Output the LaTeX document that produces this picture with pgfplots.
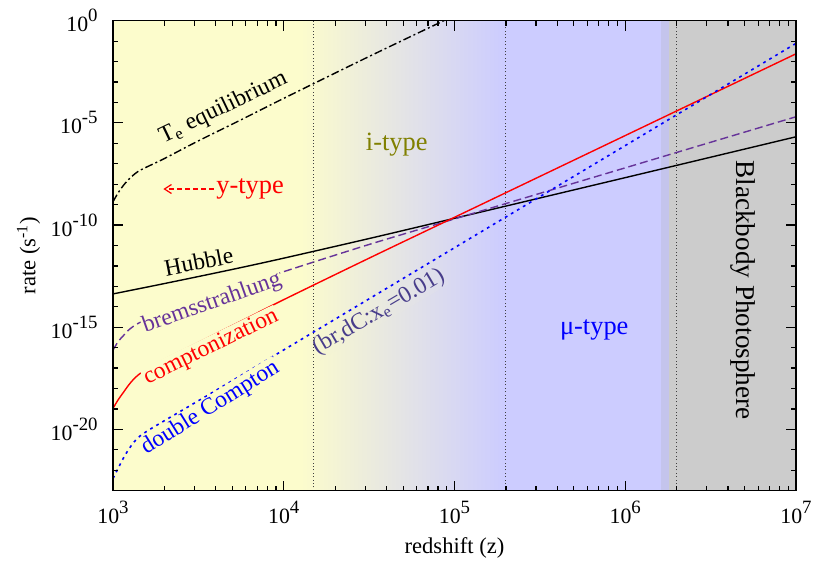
\documentclass[border=0pt]{standalone}
\usepackage{fontspec}
\setmainfont{Liberation Serif}
\usepackage{pgfplots}
\usepackage{pgfplotstable}
\pgfplotsset{compat=1.18}
\usetikzlibrary{arrows.meta}
\definecolor{bgyellow}{RGB}{252,252,204}
\definecolor{bgblue}{RGB}{204,204,255}
\definecolor{bggray}{RGB}{204,204,204}
\definecolor{bgmid}{RGB}{196,196,236}
\definecolor{bgA}{RGB}{249,249,207}
\definecolor{bgB}{RGB}{219,219,239}
\definecolor{brpurple}{RGB}{102,51,153}
\definecolor{olivetxt}{RGB}{128,128,0}
\definecolor{slate}{RGB}{72,61,139}
\newcommand{\tp}[1]{10\raisebox{5pt}{\fontsize{9.4pt}{10pt}\selectfont #1}}
\newcommand{\curvefont}{\fontsize{11.8pt}{13pt}\selectfont}
\newcommand{\annfont}{\fontsize{13.2pt}{15pt}\selectfont}

\pgfplotstableread{
x y
1000 1.380e-9
1072 3.80e-9
1148 8.51e-9
1230 1.66e-8
1318 2.82e-8
1413 4.37e-8
1585 7.08e-8
1995 1.778e-7
3162 1.318e-6
5623 1.413e-5
10000 1.585e-4
31623 1.778e-2
100000 1.778
}\teeq

\pgfplotstableread{
x y
1000 1.072e-19
1072 2.818e-19
1148 6.310e-19
1230 1.413e-18
1318 2.818e-18
1413 4.786e-18
1585 9.550e-18
1995 2.630e-17
3162 1.820e-16
5623 1.995e-15
10000 2.239e-14
31623 2.399e-12
100000 2.399e-10
316228 2.399e-8
1000000 2.399e-6
3162278 2.399e-4
10000000 2.399e-2
}\compt

\pgfplotstableread{
x y
1000 7.586e-17
1072 1.995e-16
1148 3.802e-16
1230 7.079e-16
1318 1.122e-15
1413 1.585e-15
1585 2.512e-15
1995 5.012e-15
3162 1.995e-14
5623 1.047e-13
10000 5.248e-13
31623 1.122e-11
100000 1.995e-10
316228 3.548e-9
1000000 6.310e-8
3162278 1.122e-6
10000000 1.995e-5
}\brems

\pgfplotstableread{
x y
1000 3.981e-23
1072 1.259e-22
1148 3.802e-22
1230 1.0e-21
1318 2.239e-21
1413 4.169e-21
1585 8.318e-21
1995 2.630e-20
3162 2.512e-19
5623 4.365e-18
10000 7.762e-17
31623 2.455e-14
100000 7.762e-12
316228 2.455e-9
1000000 7.762e-7
3162278 2.455e-4
10000000 7.762e-2
}\dcomp

\pgfplotstableread{
x y
1000 4.266e-14
1778 1.122e-13
3162 3.020e-13
5623 8.318e-13
10000 2.399e-12
31623 2.188e-11
100000 2.138e-10
1000000 2.089e-8
10000000 2.089e-6
}\hubble

\begin{document}
\begin{tikzpicture}
\begin{axis}[
  scale only axis, width=341.5pt, height=235pt,
  xmode=log, ymode=log,
  xmin=1e3, xmax=1e7, ymin=1e-23, ymax=1,
  axis on top,
  axis line style={line width=0.75pt},
  every tick/.style={black, line width=0.6pt},
  major tick length=5pt, minor tick length=2.6pt,
  xtick={1e3,1e4,1e5,1e6,1e7},
  xticklabels={\tp{3},\tp{4},\tp{5},\tp{6},\tp{7}},
  minor xtick={2e3,3e3,4e3,5e3,6e3,7e3,8e3,9e3,2e4,3e4,4e4,5e4,6e4,7e4,8e4,9e4,2e5,3e5,4e5,5e5,6e5,7e5,8e5,9e5,2e6,3e6,4e6,5e6,6e6,7e6,8e6,9e6},
  ytick={1,1e-5,1e-10,1e-15,1e-20},
  yticklabels={\tp{0},\tp{-5},\tp{-10},\tp{-15},\tp{-20}},
  minor ytick={1e-1,1e-2,1e-3,1e-4,1e-6,1e-7,1e-8,1e-9,1e-11,1e-12,1e-13,1e-14,1e-16,1e-17,1e-18,1e-19,1e-21,1e-22},
  tick label style={font=\fontsize{10.9pt}{12pt}\selectfont},
  xticklabel style={inner sep=0pt, anchor=north, yshift=-5.2pt},
  yticklabel style={inner sep=0pt, anchor=east, xshift=-7.5pt},
  xlabel={redshift (z)},
  ylabel={rate (s\textsuperscript{-1})},
  label style={font=\fontsize{11.3pt}{13pt}\selectfont},
  xlabel style={at={(axis description cs:0.5,-0.1219)}, anchor=center},
  ylabel style={at={(axis description cs:-0.1235,0.5)}, anchor=center},
]
% background regions
\fill[bgyellow] (axis cs:1e3,1e-23) rectangle (axis cs:1.25e4,1);
\fill[left color=bgyellow, right color=bgblue] (axis cs:1.25e4,1e-23) rectangle (axis cs:1.95e5,1);
\fill[bgblue] (axis cs:1.95e5,1e-23) rectangle (axis cs:1.63e6,1);
\fill[bgmid] (axis cs:1.63e6,1e-23) rectangle (axis cs:1.8e6,1);
\fill[bggray] (axis cs:1.8e6,1e-23) rectangle (axis cs:1e7,1);

% curves
\addplot[black, line width=0.7pt, smooth, dash pattern=on 4pt off 1.5pt on 1pt off 1.5pt] table[x=x,y=y] {\teeq};
\addplot[black, line width=0.7pt, smooth] table[x=x,y=y] {\hubble};
\addplot[brpurple, line width=0.7pt, smooth, dash pattern=on 4pt off 2pt] table[x=x,y=y] {\brems};
\addplot[red, line width=0.7pt, smooth] table[x=x,y=y] {\compt};
\addplot[blue, line width=0.8pt, smooth, dash pattern=on 1.4pt off 2.1pt] table[x=x,y=y] {\dcomp};

% labels
\node[rotate=25.6, font=\curvefont] at (axis cs:4.43e3,5.4e-5) {T\textsubscript{e} equilibrium};
\node[rotate=11, font=\curvefont] at (axis cs:3.18e3,1.63e-12) {Hubble};
\node[rotate=19.5, font=\curvefont, text=brpurple, fill=bgyellow, inner sep=0.4pt] at (axis cs:3.80e3,1.5e-14) {bremsstrahlung};
\node[rotate=26, font=\curvefont, text=red, fill=bgyellow, inner sep=0.5pt] at (axis cs:3.76e3,1e-16) {comptonization};
\node[rotate=32, font=\curvefont, text=blue, fill=bgyellow, inner sep=0.4pt] at (axis cs:3.72e3,1.1e-19) {double Compton};
\node[rotate=30.5, font=\curvefont, text=slate, left color=bgA, right color=bgB, inner sep=0.4pt] at (axis cs:3.6e4,5.5e-15) {(br,dC:x\textsubscript{e}=0.01)};
\draw[red, line width=0.6pt, dash pattern=on 2.5pt off 1.5pt, -{Straight Barb[length=3.5pt,width=4.5pt]}] (axis cs:3882,5.8e-9) -- (axis cs:1972,5.8e-9);
\node[font=\annfont, text=red] at (axis cs:6.35e3,5.8e-9) {y-type};
\node[font=\annfont, text=olivetxt] at (axis cs:4.59e4,8.2e-7) {i-type};
\node[font=\annfont, text=blue] at (axis cs:6.58e5,7.2e-16) {μ-type};
\node[rotate=-90, font=\fontsize{13.6pt}{15pt}\selectfont] at (axis cs:4.87e6,6.6e-14) {Blackbody Photosphere};

% region boundaries
\draw[gray!50!black, line width=0.5pt, dash pattern=on 0.5pt off 1.2pt] (axis cs:1.5e4,1e-23) -- (axis cs:1.5e4,1);
\draw[gray!50!black, line width=0.5pt, dash pattern=on 0.5pt off 1.2pt] (axis cs:2e5,1e-23) -- (axis cs:2e5,1);
\draw[gray!50!black, line width=0.5pt, dash pattern=on 0.5pt off 1.2pt] (axis cs:2e6,1e-23) -- (axis cs:2e6,1);
\end{axis}
\pgfresetboundingbox
\path ([shift={(-56.5pt,-35.15pt)}]current axis.south west) rectangle ([shift={(9pt,10.35pt)}]current axis.north east);
\end{tikzpicture}
\end{document}
